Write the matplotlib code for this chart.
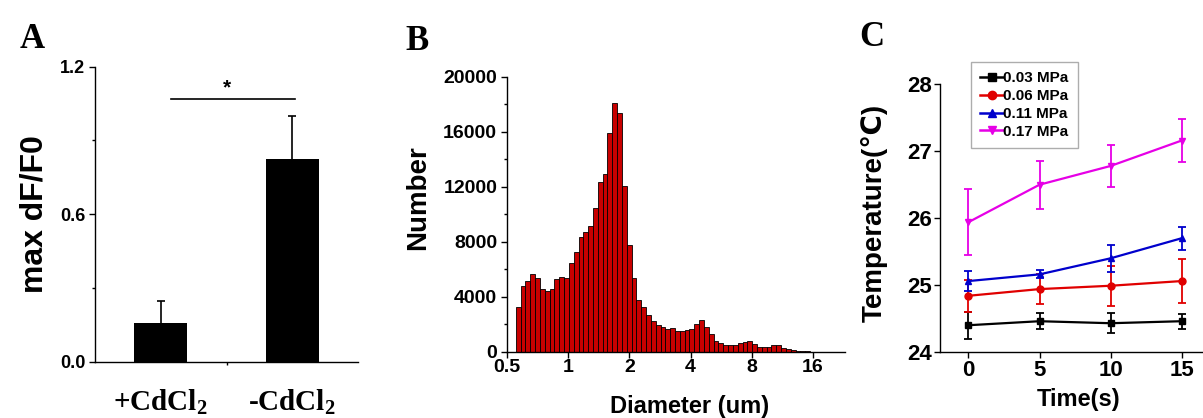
import numpy as np
import matplotlib
matplotlib.use('Agg')
import matplotlib.pyplot as plt
from matplotlib.lines import Line2D
from matplotlib.ticker import MultipleLocator, FixedLocator, NullLocator

plt.rcParams['font.family'] = ['Liberation Sans', 'DejaVu Sans']
plt.rcParams['font.weight'] = 'bold'
plt.rcParams['axes.labelweight'] = 'bold'
plt.rcParams['mathtext.fontset'] = 'custom'
plt.rcParams['mathtext.rm'] = 'Liberation Serif:bold'
plt.rcParams['mathtext.it'] = 'Liberation Serif:bold'
plt.rcParams['mathtext.bf'] = 'Liberation Serif:bold'

# panel A
groups = ['+CdCl$_2$', '-CdCl$_2$']
dff0 = [0.156, 0.823]
dff0_err = [0.091, 0.176]

# panel B (log-spaced bins)
bin_start = 0.553
bin_step = 0.0788  # octaves per bin
counts = [3270, 4800, 5140, 5700, 5400, 4560, 4440, 4560, 5280, 5450,
          5380, 6470, 7300, 8360, 8730, 9160, 10500, 12360, 12970, 15950,
          18100, 17400, 12070, 7780, 5380, 3760, 3270, 2670, 2250, 1980,
          1850, 1700, 1740, 1560, 1540, 1570, 1650, 2050, 2300, 1850,
          1290, 780, 670, 520, 500, 510, 640, 760, 800, 600,
          380, 350, 370, 500, 480, 300, 190, 120, 100, 70,
          50, 30]

# panel C
time_s = [0, 5, 10, 15]
pressures = ['0.03 MPa', '0.06 MPa', '0.11 MPa', '0.17 MPa']
temp = [[24.40, 24.46, 24.43, 24.46],
        [24.84, 24.94, 24.99, 25.06],
        [25.06, 25.16, 25.40, 25.70],
        [25.94, 26.50, 26.78, 27.16]]
temp_err = [[0.20, 0.12, 0.15, 0.11],
            [0.24, 0.22, 0.30, 0.33],
            [0.15, 0.06, 0.20, 0.17],
            [0.49, 0.36, 0.32, 0.32]]
colors = ['black', '#e00000', '#0000cc', '#e600e6']
markers = ['s', 'o', '^', 'v']

fig = plt.figure(figsize=(12.03, 4.18), dpi=100)

def style(ax):
    for s in ['top', 'right']:
        ax.spines[s].set_visible(False)
    for s in ['left', 'bottom']:
        ax.spines[s].set_linewidth(1.0)
    ax.tick_params(which='major', direction='out', length=4, width=1)
    ax.tick_params(which='minor', direction='out', length=2.5, width=1)

# ---- A ----
axA = fig.add_axes([0.0790, 0.1347, 0.2186, 0.7057])
style(axA)
xa = np.arange(1, len(groups) + 1)
axA.bar(xa, dff0, width=0.4, color='black')
eb = axA.errorbar(xa, dff0, yerr=[[0, 0], dff0_err], fmt='none', ecolor='black',
                  elinewidth=1.2, capsize=3, capthick=1.2)
eb[1][0].set_visible(False)  # only the upper cap
axA.plot([1.08, 2.02], [1.068, 1.068], color='black', lw=1.2)
axA.text(1.5, 1.075, '*', ha='center', va='bottom', fontsize=15)
axA.set_xlim(0.5, 2.5)
axA.set_ylim(0, 1.2)
axA.set_yticks([0, 0.6, 1.2])
axA.set_yticklabels(['0.0', '0.6', '1.2'])
axA.yaxis.set_minor_locator(MultipleLocator(0.3))
axA.set_xticks(xa)
axA.set_xticklabels(groups, family='Liberation Serif', fontsize=21)
axA.tick_params(axis='x', which='major', length=0, pad=19)
axA.xaxis.set_minor_locator(FixedLocator([1.5]))
axA.tick_params(axis='y', labelsize=13, pad=3)
axA.set_ylabel('max dF/F0', fontsize=23)
axA.yaxis.set_label_coords(-0.175, 0.5)

# ---- B ----
axB = fig.add_axes([0.4214, 0.1579, 0.2810, 0.6579])
style(axB)
edges = bin_start * 2 ** (bin_step * np.arange(len(counts) + 1))
axB.bar(edges[:-1], counts, width=np.diff(edges), align='edge',
        color='#c80000', edgecolor='black', linewidth=0.6)
axB.set_xscale('log', base=2)
axB.set_xlim(0.5, 23)
axB.set_ylim(0, 20000)
axB.xaxis.set_major_locator(FixedLocator([0.5, 1, 2, 4, 8, 16]))
axB.set_xticklabels(['0.5', '1', '2', '4', '8', '16'])
axB.xaxis.set_minor_locator(NullLocator())
axB.yaxis.set_major_locator(MultipleLocator(4000))
axB.yaxis.set_minor_locator(MultipleLocator(2000))
axB.tick_params(labelsize=14)
axB.tick_params(axis='x', pad=1)
axB.tick_params(axis='y', pad=3)
axB.set_ylabel('Number', fontsize=20)
axB.yaxis.set_label_coords(-0.225, 0.56)
axB.set_xlabel('Diameter (um)', fontsize=17)
axB.xaxis.set_label_coords(0.54, -0.155)

# ---- C ----
axC = fig.add_axes([0.7814, 0.1579, 0.2186, 0.6404])
style(axC)
handles = []
for i in range(len(pressures)):
    axC.errorbar(time_s, temp[i], yerr=temp_err[i], color=colors[i],
                 marker=markers[i], markersize=5, lw=1.6, elinewidth=1.3,
                 capsize=3, capthick=1.3)
    handles.append(Line2D([], [], color=colors[i], marker=markers[i],
                          markersize=6, lw=1.8, label=pressures[i]))
axC.set_xlim(-2, 16.5)
axC.set_ylim(24, 28)
axC.set_xticks([0, 5, 10, 15])
axC.set_yticks([24, 25, 26, 27, 28])
axC.tick_params(labelsize=16)
axC.tick_params(axis='x', pad=2)
axC.tick_params(axis='y', pad=2)
axC.set_ylabel('Temperature(℃)', fontsize=20)
axC.yaxis.set_label_coords(-0.2, 0.52)
axC.set_xlabel('Time(s)', fontsize=17)
axC.xaxis.set_label_coords(0.525, -0.135)
leg = axC.legend(handles=handles, loc='upper left', bbox_to_anchor=(0.118, 1.083),
                 fontsize=11, frameon=True, fancybox=False, edgecolor='#999999',
                 handlelength=1.5, handletextpad=0.0, labelspacing=0.25,
                 borderpad=0.6, borderaxespad=0)
leg.get_frame().set_linewidth(1.0)

fig.text(0.027, 0.905, 'A', family='Liberation Serif', fontsize=25,
         ha='center', va='center')
fig.text(0.347, 0.9, 'B', family='Liberation Serif', fontsize=25,
         ha='center', va='center')
fig.text(0.7245, 0.91, 'C', family='Liberation Serif', fontsize=25,
         ha='center', va='center')

fig.savefig('out.png', dpi=100)
